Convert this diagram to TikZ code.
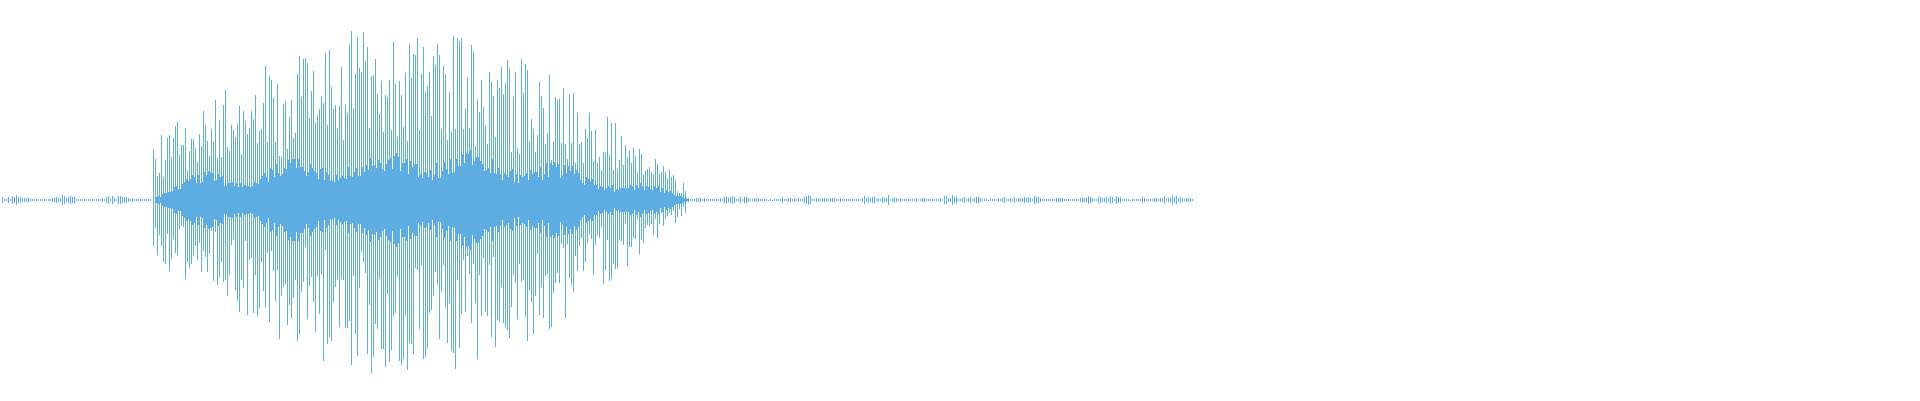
\documentclass[tikz,border=0pt]{standalone}
\definecolor{wave}{RGB}{93,173,226}
\begin{document}
\begin{tikzpicture}[x=1pt,y=1pt,wv/.style={draw=wave,line width=0.6pt}]
\useasboundingbox (0,0) rectangle (1920,400);
\pgfmathsetseed{7}
% quiet head and tail
\foreach \x in {2,4,...,150}{
  \pgfmathsetmacro\a{0.8+2*rnd*(1+sin(\x*7))}
  \draw[wv] (\x,200-\a)--(\x,200+\a);}
\foreach \x in {688,690,...,1192}{
  \pgfmathsetmacro\a{0.8+2*rnd*(1+0.8*sin(\x*5)+0.6*sin(\x*13))}
  \draw[wv] (\x,200-\a)--(\x,200+\a);}
% dense core
\foreach \x in {155,156,...,688}{
  \pgfmathsetmacro\t{(\x-150)/540}
  \pgfmathsetmacro\c{(12+32*sin(180*\t)+8*sin(\x*4))*(1-0.7*\t^8)*(0.55+0.45*rnd)}
  \draw[wv] (\x,200-\c)--(\x,200+\c);}
% spikes
\foreach \x in {153,155,...,686}{
  \pgfmathsetmacro\t{(\x-150)/540}
  \pgfmathsetmacro\e{(60+120*sin(180*\t))*(1-0.75*\t^6)}
  \pgfmathsetmacro\u{\e*(0.3+0.7*rnd)}
  \pgfmathsetmacro\d{\e*(0.3+0.7*rnd)}
  \draw[wv,line width=0.45pt] (\x,200-\d)--(\x,200+\u);}
\end{tikzpicture}
\end{document}
